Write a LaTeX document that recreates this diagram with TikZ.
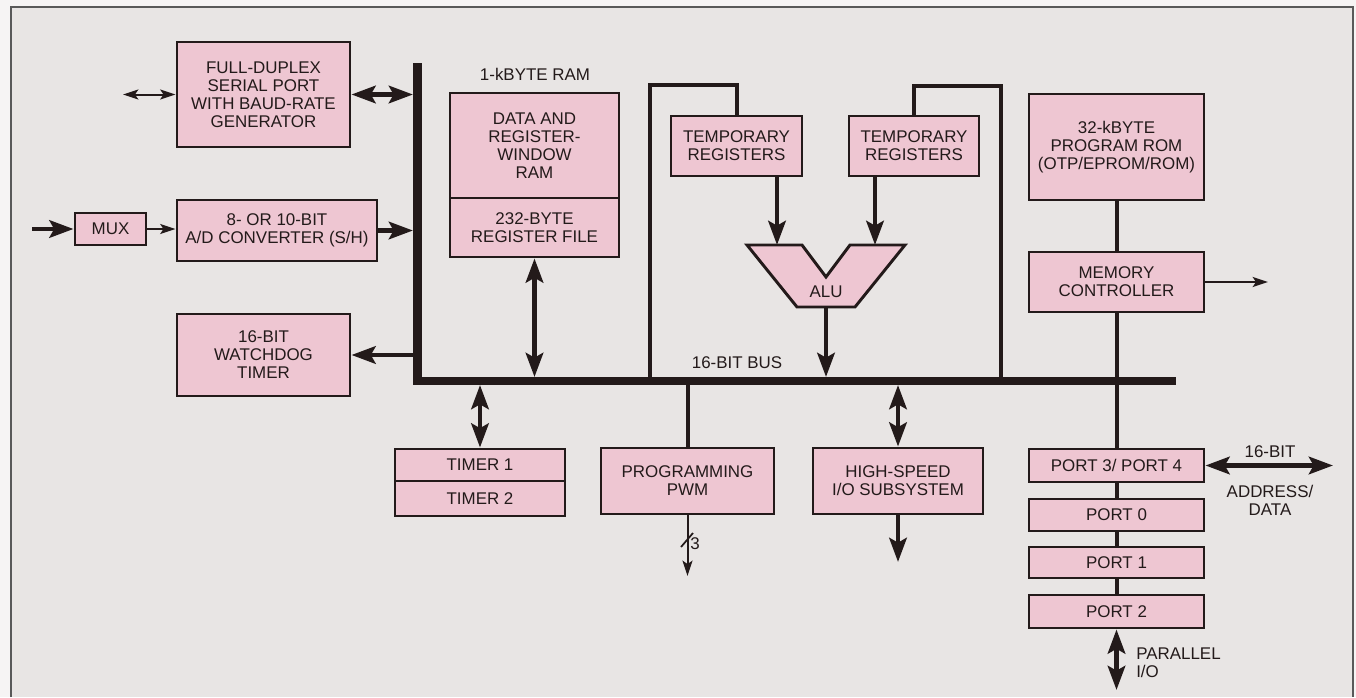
\documentclass[tikz,border=0pt]{standalone}
\usepackage{fontspec}
\setmainfont{Liberation Sans}
\usetikzlibrary{arrows.meta,calc}
\definecolor{bgin}{HTML}{E8E5E4}
\definecolor{bgout}{HTML}{F6F4F4}
\definecolor{pinkb}{HTML}{EEC6D2}
\definecolor{ink}{HTML}{231A1A}
\newcommand{\bx}[6]{\node[box, minimum width={(#4-#2)*0.75pt}, minimum height={(#5-#3)*0.75pt}] (#1) at ({(#2+#4)/2},{(#3+#5)/2}) {#6};}
\tikzset{
  box/.style={draw=ink, fill=pinkb, line width=2.2pt, align=center, inner sep=0pt,
    font=\fontsize{12.7}{13.5}\selectfont, text=ink},
  lbl/.style={align=center, inner sep=0pt, font=\fontsize{12.7}{13.5}\selectfont, text=ink},
  wire/.style={draw=ink, line width=3pt},
  bigtip/.tip={Stealth[length=18pt,width=13pt,inset=3.5pt]},
  smalltip/.tip={Stealth[length=11.5pt,width=7.5pt,inset=2.5pt]},
  thk/.style={draw=ink, line width=3.6pt, -bigtip},
  dthk/.style={draw=ink, line width=3.6pt, bigtip-bigtip},
  thn/.style={draw=ink, line width=1.5pt, -smalltip},
  dthn/.style={draw=ink, line width=1.5pt, smalltip-smalltip},
}
\begin{document}
\begin{tikzpicture}[x=0.75pt,y=-0.75pt]
\useasboundingbox (0,0) rectangle (1356,697);
\fill[bgout] (0,0) rectangle (1356,697);
\fill[bgin] (11,7) rectangle (1353,697);
\draw[black!65, line width=1.2pt] (11,697) -- (11,7) -- (1353,7) -- (1353,697);

% boxes
\bx{serial}{177}{42}{350}{147}{FULL-DUPLEX\\SERIAL PORT\\WITH BAUD-RATE\\GENERATOR}
\bx{mux}{75}{213}{146}{245}{MUX}
\bx{adc}{177}{200}{377}{261}{8- OR 10-BIT\\A/D CONVERTER (S/H)}
\bx{wdt}{177}{314}{350}{396}{16-BIT\\WATCHDOG\\TIMER}
\bx{ram}{450}{93}{619}{198}{DATA AND\\REGISTER-\\WINDOW\\RAM}
\bx{regfile}{450}{198}{619}{257}{232-BYTE\\REGISTER FILE}
\bx{tmp1}{671}{116}{802}{176}{TEMPORARY\\REGISTERS}
\bx{tmp2}{849}{116}{979}{176}{TEMPORARY\\REGISTERS}
\bx{rom}{1029}{94}{1204}{200}{32-kBYTE\\PROGRAM ROM\\(OTP/EPROM/ROM)}
\bx{mc}{1029}{252}{1204}{312}{MEMORY\\CONTROLLER}
\bx{timer1}{395}{449}{565}{481}{TIMER 1}
\bx{timer2}{395}{481}{565}{516}{TIMER 2}
\bx{pwm}{601}{448}{774}{514}{PROGRAMMING\\PWM}
\bx{hsio}{813}{448}{983}{514}{HIGH-SPEED\\I/O SUBSYSTEM}
\bx{p34}{1029}{449}{1204}{482}{PORT 3/ PORT 4}
\bx{p0}{1029}{499}{1204}{531}{PORT 0}
\bx{p1}{1029}{547}{1204}{578}{PORT 1}
\bx{p2}{1029}{595}{1204}{628}{PORT 2}

% ALU
\draw[draw=ink, fill=pinkb, line width=2.2pt, line join=miter]
  (747,245) -- (802,245) -- (826,277) -- (850,245) -- (905,245) -- (855,307) -- (797,307) -- cycle;
\node[lbl] (alu) at (826,292) {ALU};
\coordinate (alubot) at (826,307);
\coordinate (a1) at (777,245);
\coordinate (a2) at (875,245);

% labels
\node[lbl] (ramlbl) at (535,74) {1-kBYTE RAM};
\node[lbl] (buslbl) at (737,363) {16-BIT BUS};
\node[lbl] (bitlbl) at (1270,452) {16-BIT};
\node[lbl] (adlbl) at (1270,500) {ADDRESS/\\DATA};
\node[lbl, align=left, anchor=west] (pio) at (1136,663) {PARALLEL\\I/O};

% bus
\coordinate (busTop) at (417.5,63);
\coordinate (busCorner) at (417.5,381);
\coordinate (busEnd) at (1176,381);
\draw[ink, line width=6.4pt, line join=miter] (busTop) -- (busCorner) -- (busEnd);

% left side connectors
\coordinate (serext) at (123,94.5);
\draw[dthn] (serext) -- (serial.west);
\draw[dthk, shorten >=3.4pt] (serial.east) -- (serial.east -| busTop);
\coordinate (muxin) at (32,229);
\draw[thk] (muxin) -- (mux.west);
\draw[thn] (mux.east) -- (mux.east -| adc.west);
\draw[thk, shorten >=3.4pt] (adc.east) -- (adc.east -| busTop);
\draw[thk, shorten <=3.4pt] (wdt.east -| busTop) -- (wdt.east);

% RAM / temp / ALU
\draw[dthk] (regfile.south) -- ($(regfile.south |- busEnd)+(0,-4)$);
\coordinate (j1) at (650,378);
\coordinate (k1) at (650,85);
\draw[wire] (j1) -- (k1) -| (tmp1.north);
\coordinate (k2) at (1001,86);
\coordinate (j2) at (1001,378);
\draw[wire] (tmp2.north) |- (k2) -- (j2);
\draw[thk] (a1 |- tmp1.south) -- (a1);
\draw[thk] (a2 |- tmp2.south) -- (a2);
\draw[thk] (alubot) -- ($(alubot |- busEnd)+(0,-4)$);

% ROM / memory controller / ports
\draw[wire] (rom.south) -- (mc.north);
\coordinate (mcout) at (1268,282);
\draw[thn] (mc.east) -- (mcout);
\draw[wire] (mc.south) -- (p34.north);
\draw[wire] (p34.south) -- (p0.north);
\draw[wire] (p0.south) -- (p1.north);
\draw[wire] (p1.south) -- (p2.north);
\coordinate (adout) at (1333,465.5);
\draw[dthk] (p34.east) -- (adout);
\coordinate (pioout) at (1116.5,690);
\draw[dthk] (p2.south) -- (pioout);

% lower connectors
\draw[dthk] ($(timer1.north |- busEnd)+(0,4)$) -- (timer1.north);
\draw[wire] ($(pwm.north |- busEnd)+(0,3)$) -- (pwm.north);
\draw[dthk] ($(hsio.north |- busEnd)+(0,4)$) -- (hsio.north);
\coordinate (pwmout) at (687.5,576);
\draw[thn] (pwm.south) -- (pwmout);
\draw[ink, line width=1.3pt] (681,547) -- (693,533);
\node[lbl, anchor=west] (three) at (690,544) {3};
\coordinate (hsout) at (898,562);
\draw[thk] (hsio.south) -- (hsout);
\end{tikzpicture}
\end{document}
